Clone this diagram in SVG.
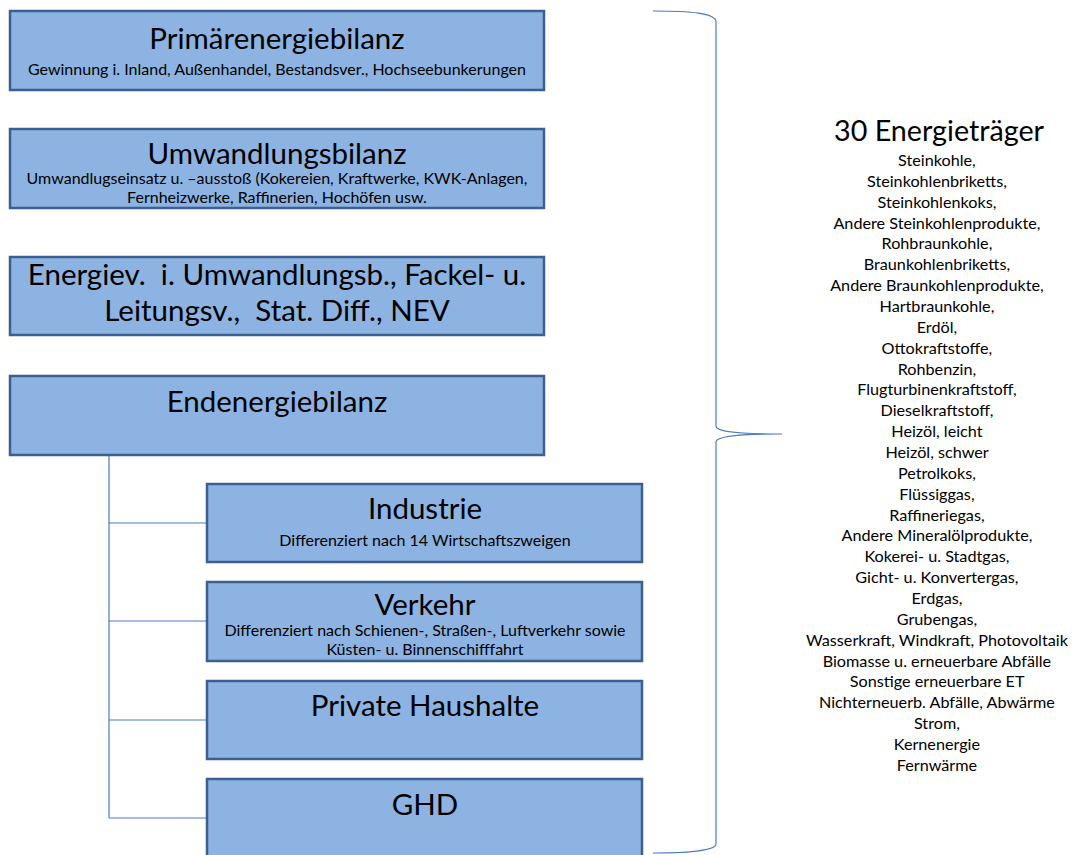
<svg xmlns="http://www.w3.org/2000/svg" width="1076" height="855" viewBox="0 0 1076 855">
<style>
.box{fill:#8DB3E2;stroke:#3B5F8E;stroke-width:2.5}
.t{font-family:Lato,"Liberation Sans",sans-serif;fill:#000;text-anchor:middle;white-space:pre}
.h{font-size:29.5px}
.s{font-size:16px}
.l{font-size:16.2px}
.c{fill:none;stroke:#4A7EBB;stroke-width:1.2}
</style>
<rect width="1076" height="855" fill="#fff"/>
<g id="connectors">
<path class="c" d="M109 455V818M109 523H207M109 621H207M109 720H207M109 818H207"/>
<path class="c" d="M653 11C690 11 716 13 716 22V426C716 432 740 434 782 434C740 434 716 436 716 442V844C716 850 690 853 653 853"/>
</g>
<g id="primaer">
<rect class="box" x="10" y="11" width="534" height="79"/>
<text class="t h" x="277" y="49">Primärenergiebilanz</text>
<text class="t s" x="277" y="75">Gewinnung i. Inland, Außenhandel, Bestandsver., Hochseebunkerungen</text>
</g>
<g id="umwandlung">
<rect class="box" x="10" y="129" width="534" height="79"/>
<text class="t h" x="277" y="164">Umwandlungsbilanz</text>
<text class="t s" x="277" y="184">Umwandlugseinsatz u. –ausstoß (Kokereien, Kraftwerke, KWK-Anlagen,</text>
<text class="t s" x="277" y="203">Fernheizwerke, Raffinerien, Hochöfen usw.</text>
</g>
<g id="energiev">
<rect class="box" x="10" y="257" width="534" height="78"/>
<text class="t h" x="277" y="285" xml:space="preserve">Energiev.  i. Umwandlungsb., Fackel- u.</text>
<text class="t h" x="277" y="321" xml:space="preserve">Leitungsv.,  Stat. Diff., NEV</text>
</g>
<g id="endenergie">
<rect class="box" x="10" y="376" width="534" height="79"/>
<text class="t h" x="277" y="412">Endenergiebilanz</text>
</g>
<g id="industrie">
<rect class="box" x="207" y="484" width="435" height="78"/>
<text class="t h" x="425" y="519">Industrie</text>
<text class="t s" x="425" y="546">Differenziert nach 14 Wirtschaftszweigen</text>
</g>
<g id="verkehr">
<rect class="box" x="207" y="582" width="435" height="79"/>
<text class="t h" x="425" y="615">Verkehr</text>
<text class="t s" x="425" y="636">Differenziert nach Schienen-, Straßen-, Luftverkehr sowie</text>
<text class="t s" x="425" y="655">Küsten- u. Binnenschifffahrt</text>
</g>
<g id="haushalte">
<rect class="box" x="207" y="681" width="435" height="78"/>
<text class="t h" x="425" y="716">Private Haushalte</text>
</g>
<g id="ghd">
<rect class="box" x="207" y="779" width="435" height="80"/>
<text class="t h" x="425" y="815">GHD</text>
</g>
<g id="energietraeger">
<text class="t" x="939" y="141" style="font-size:28.7px">30 Energieträger</text>
<text class="t l" x="939" y="166">
<tspan x="939" dy="0">Steinkohle,</tspan>
<tspan x="939" dy="20.86">Steinkohlenbriketts,</tspan>
<tspan x="939" dy="20.86">Steinkohlenkoks,</tspan>
<tspan x="939" dy="20.86">Andere Steinkohlenprodukte,</tspan>
<tspan x="939" dy="20.86">Rohbraunkohle,</tspan>
<tspan x="939" dy="20.86">Braunkohlenbriketts,</tspan>
<tspan x="939" dy="20.86">Andere Braunkohlenprodukte,</tspan>
<tspan x="939" dy="20.86">Hartbraunkohle,</tspan>
<tspan x="939" dy="20.86">Erdöl,</tspan>
<tspan x="939" dy="20.86">Ottokraftstoffe,</tspan>
<tspan x="939" dy="20.86">Rohbenzin,</tspan>
<tspan x="939" dy="20.86">Flugturbinenkraftstoff,</tspan>
<tspan x="939" dy="20.86">Dieselkraftstoff,</tspan>
<tspan x="939" dy="20.86">Heizöl, leicht</tspan>
<tspan x="939" dy="20.86">Heizöl, schwer</tspan>
<tspan x="939" dy="20.86">Petrolkoks,</tspan>
<tspan x="939" dy="20.86">Flüssiggas,</tspan>
<tspan x="939" dy="20.86">Raffineriegas,</tspan>
<tspan x="939" dy="20.86">Andere Mineralölprodukte,</tspan>
<tspan x="939" dy="20.86">Kokerei- u. Stadtgas,</tspan>
<tspan x="939" dy="20.86">Gicht- u. Konvertergas,</tspan>
<tspan x="939" dy="20.86">Erdgas,</tspan>
<tspan x="939" dy="20.86">Grubengas,</tspan>
<tspan x="939" dy="20.86">Wasserkraft, Windkraft, Photovoltaik</tspan>
<tspan x="939" dy="20.86">Biomasse u. erneuerbare Abfälle</tspan>
<tspan x="939" dy="20.86">Sonstige erneuerbare ET</tspan>
<tspan x="939" dy="20.86">Nichterneuerb. Abfälle, Abwärme</tspan>
<tspan x="939" dy="20.86">Strom,</tspan>
<tspan x="939" dy="20.86">Kernenergie</tspan>
<tspan x="939" dy="20.86">Fernwärme</tspan>
</text>
</g>
</svg>
